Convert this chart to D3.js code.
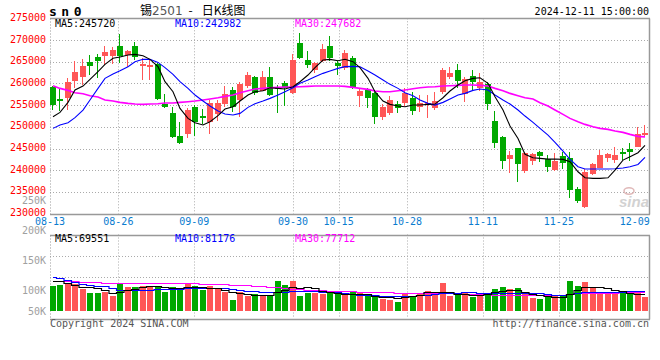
<!DOCTYPE html>
<html>
<head>
<meta charset="utf-8">
<script src="https://cdn.jsdelivr.net/npm/d3@7"></script>
<style>
body{margin:0;background:#fff;}
svg{display:block;}
</style>
</head>
<body>
<svg id="chart"></svg>
<script>
// trading days shown on the chart
var dates = ["08-13","08-14","08-15","08-16","08-19","08-20","08-21","08-22","08-23","08-26",
	"08-27","08-28","08-29","08-30","09-02","09-03","09-04","09-05","09-06","09-09",
	"09-10","09-11","09-12","09-13","09-18","09-19","09-20","09-23","09-24","09-25",
	"09-26","09-27","09-30","10-08","10-09","10-10","10-11","10-14","10-15","10-16",
	"10-17","10-18","10-21","10-22","10-23","10-24","10-25","10-28","10-29","10-30",
	"10-31","11-01","11-04","11-05","11-06","11-07","11-08","11-11","11-12","11-13",
	"11-14","11-15","11-18","11-19","11-20","11-21","11-22","11-25","11-26","11-27",
	"11-28","11-29","12-02","12-03","12-04","12-05","12-06","12-09","12-10","12-11"];

var opens = [259250,256500,256700,260550,261550,264950,266100,266300,266300,268600,
	266550,268600,264100,263850,264400,255250,253250,247900,248250,254550,
	252550,251200,252850,255250,258500,256200,259500,261450,258350,261450,
	259250,260150,257700,269400,265400,263100,265150,268600,264600,263450,
	265800,257100,258500,257700,252350,253250,255250,255400,256700,254650,
	255000,254400,258100,261550,263100,257500,261700,259000,259800,251350,
	247650,242600,245050,239900,242200,244250,242600,240050,243250,242750,
	235600,231600,239050,240600,242900,242350,244250,244900,245400,248100];

var highs = [259500,258850,261300,265150,265600,266550,266750,268600,268400,271400,
	267600,269600,265800,265550,264600,257550,254650,251200,254250,255000,
	254100,256200,256200,259400,259100,260400,262700,261700,262950,263700,
	259650,260550,266700,271700,267450,265000,269100,270900,265150,267700,
	266300,258850,258850,258100,255250,257100,255950,258850,258100,257350,
	257350,258100,263600,263850,264450,261550,263100,262300,260400,253650,
	247950,244400,245050,244250,244050,244400,243500,243900,244250,244250,
	236050,240300,241600,244650,244050,245250,245050,246200,250050,250400];

var lows = [253900,253650,253850,258850,259650,261950,261300,264250,264400,264600,
	263850,265400,260800,260800,256200,254400,247500,246050,247350,247950,
	250550,248400,251400,254650,253350,252350,258850,257350,258250,257100,
	253100,254850,257500,265600,263450,262300,265000,265150,261950,263100,
	258650,254650,254250,250550,251550,252700,253100,254850,252700,253500,
	252100,253850,257550,261000,258850,255800,258500,258250,253850,245200,
	240300,239450,237350,239300,241200,241950,239500,239900,240300,233650,
	232350,231350,238900,240450,241800,241600,242350,242100,245400,247750];

var closes = [255000,256250,260250,262650,263950,264000,265150,267250,267700,266300,
	267450,266150,264400,264250,256400,254650,247750,246350,253850,251200,
	252100,255400,255400,257550,254650,259850,261950,257700,261450,257350,
	258850,258850,265400,265800,264250,264800,267950,265800,264100,267100,
	259000,258250,256700,252350,254550,256200,254250,257700,253700,255400,
	255400,255950,263100,262300,260550,261000,260400,260400,255250,246350,
	242100,243500,241450,243900,243750,243350,240800,242200,241750,235450,
	233000,239650,241350,243500,243650,243500,243900,244250,248350,248500];

// price moving averages as drawn
var ma5 = [252340,253330,255640,258480,259400,260940,262700,264390,265780,266100,
	266540,266700,266390,265550,263860,260400,258100,254260,251950,250950,
	250420,251180,252570,254100,254640,255950,257330,258100,258330,259020,
	258860,258710,259250,260400,261940,263630,265390,265550,265240,265550,
	265010,263630,261170,258100,255950,255180,254790,254640,255020,255020,
	255180,255250,256710,258250,259630,260630,261170,261320,260020,256940,
	253870,250190,247340,243700,242890,242740,242580,242580,242510,241970,
	239660,238280,238130,238130,238280,240050,242350,243120,244040,245720];

var ma10 = [249650,250420,250950,252110,253870,256180,258860,261170,262170,262930,
	263860,265010,265550,265550,264850,263630,262090,260400,258860,257330,
	255950,254790,253640,252950,252720,253100,254490,255330,255950,256560,
	257330,258100,259020,260020,260780,261550,262320,262860,263470,263860,
	263930,263860,262860,261940,260780,259790,258860,257870,257170,256180,
	255410,255020,255640,256410,257330,257710,258400,258710,258480,257330,
	256180,255250,253870,252490,251030,249650,248110,246420,244430,242510,
	240820,240280,240280,240280,240280,240360,240510,240820,241350,242982];

var ma30 = [259480,258860,258400,257870,257640,257170,256870,256180,255950,255640,
	255410,255250,255180,255250,255330,255490,255490,255640,255790,255950,
	256180,256410,256710,257020,257330,257870,258330,258710,258860,259020,
	259090,259170,259170,259250,259330,259400,259400,259400,259400,259330,
	259090,258860,258630,258250,258100,258100,258330,258480,258790,259020,
	259170,259250,259400,259480,259560,259630,259630,259560,259400,258860,
	258330,257710,257170,256710,256410,255560,254790,253870,252870,251950,
	251180,250570,250030,249650,249420,249030,248730,248270,247810,247682];

// traded volume and its moving averages
var volumes = [102000,106000,110000,109000,91000,73000,73000,79000,63000,115500,
	99500,99500,102000,99500,102000,78000,99500,88000,110000,102000,
	85500,102000,93000,79000,45000,79000,63000,67600,61000,63000,
	122000,106000,122000,63000,72000,72000,69500,72000,72000,65700,
	79000,72000,63000,61000,49000,45000,35700,72000,63000,72000,
	81700,79000,114600,63000,75000,72000,57300,65700,65700,90000,
	97700,90000,94800,79000,52600,49000,67600,63000,61000,122000,
	102000,118000,94800,67600,72000,72000,72000,72000,79000,57300];

var volMa5 = [123800,121100,114300,107500,99300,96600,92500,87100,73500,78900,
	87100,89800,96600,100700,100700,96600,92500,92500,96600,96600,
	96600,93900,92500,87100,76200,72100,69400,66700,65300,65300,
	76200,85700,96600,93900,96600,93900,83000,78900,72100,69400,
	69400,69400,69400,62600,58500,55800,53100,55800,62600,66700,
	76200,78900,78900,76200,69400,69400,66700,65300,69400,76200,
	83000,85700,85700,76200,69400,65300,62600,58500,58500,69400,
	85700,96600,99300,99300,92500,85700,80300,72100,69400,69551];

var volMa10 = [137400,133300,126500,117000,110200,106100,103400,100700,92500,87100,
	87100,87100,87100,87100,89800,89800,89800,89800,92500,92500,
	93900,93900,93900,92500,89800,87100,83000,80300,78900,76200,
	78900,78900,83000,83000,83000,81600,78900,76200,76200,73500,
	69400,66700,66700,65300,62600,59900,59900,62600,62600,65300,
	66700,69400,72100,73500,74800,76200,76200,73500,72100,73500,
	73500,73500,74800,74800,73500,72100,69400,65300,65300,69400,
	73500,76200,76200,76200,76200,78900,78900,80300,83000,81176];

var volMa30 = [123800,123800,123800,121100,119700,117000,117000,114300,114300,114300,
	114300,112900,112900,112900,112900,112900,112900,112900,112900,112900,
	110200,110200,110200,108800,107500,106100,104800,103400,103400,96600,
	96600,93900,89800,88400,87100,85700,84400,83000,83000,83000,
	80300,78900,76200,76200,76200,76200,73500,73500,73500,72100,
	72100,72100,72100,72100,72100,69400,69400,69400,69400,66700,
	66700,66700,66700,66700,66700,66700,66700,66700,66700,69400,
	72100,73500,73500,73500,74800,74800,76200,76200,76200,77712];

var priceTicks = [275000,270000,265000,260000,255000,250000,245000,240000,235000,230000];
var volTicks = [250000,200000,150000,100000,50000];
var dateTicks = ["08-13","08-26","09-09","09-30","10-15","10-28","11-11","11-25","12-09"];

var W = 660, H = 360;
var left = 50, right = 650;
var mainTop = 18.3, mainBot = 213.7;
var volTop = 234.5, volBot = 318.5, volBase = 311;

var upColor = "#ff5656", downColor = "#00a800";
var gridColor = "#aaaaaa", borderColor = "#999999";
var mono = "'DejaVu Sans Mono', 'Liberation Mono', monospace";

var svg = d3.select("#chart").attr("width", W).attr("height", H);

var x = d3.scaleBand().domain(dates).range([left, 648.5]).paddingInner(0.2).paddingOuter(0);
var xTick = d3.scalePoint().domain(dates).range([left, right]);
var y = d3.scaleLinear().domain([230000, 275000]).range([mainBot, mainTop]);
var yVol = d3.scaleLinear().domain([0, 100000]).range([volBase, volBase - 24.5]);
// the volume labels sit on their own spacing, last one pushed to the bottom
var yVolLabel = d3.scaleLinear().domain([100000, 250000]).range([294, 203.5]);

var candles = dates.map(function(d, i){
	return {date: d, o: opens[i], h: highs[i], l: lows[i], c: closes[i], v: volumes[i]};
});
function colorOf(d){ return d.c >= d.o ? upColor : downColor; }
function px(v){ return Math.round(v) + 0.5; }

//grid main panel
svg.append("g").selectAll("line")
	.data(priceTicks.slice(1, -1))
	.enter().append("line")
	.attr("x1", left).attr("x2", right)
	.attr("y1", function(d){ return px(y(d)); })
	.attr("y2", function(d){ return px(y(d)); })
	.attr("stroke", gridColor)
	.attr("stroke-dasharray", "1,2");

var vGrid = dateTicks.slice(1, -1);
svg.append("g").selectAll("line")
	.data(vGrid)
	.enter().append("line")
	.attr("x1", function(d){ return px(xTick(d)); })
	.attr("x2", function(d){ return px(xTick(d)); })
	.attr("y1", mainTop).attr("y2", mainBot)
	.attr("stroke", gridColor)
	.attr("stroke-dasharray", "1,2");

//grid volume panel
var volGridY = [1, 2].map(function(k){ return volTop + k * (volBot - volTop) / 4; });
svg.append("g").selectAll("line")
	.data(volGridY)
	.enter().append("line")
	.attr("x1", left).attr("x2", right)
	.attr("y1", function(d){ return px(d); })
	.attr("y2", function(d){ return px(d); })
	.attr("stroke", gridColor)
	.attr("stroke-dasharray", "1,2");

svg.append("g").selectAll("line")
	.data(vGrid)
	.enter().append("line")
	.attr("x1", function(d){ return px(xTick(d)); })
	.attr("x2", function(d){ return px(xTick(d)); })
	.attr("y1", volTop).attr("y2", volBot)
	.attr("stroke", gridColor)
	.attr("stroke-dasharray", "1,2");

//borders
function frame(t, b){
	var f = svg.append("g").attr("fill", "none").attr("stroke", borderColor).attr("stroke-width", 1.5);
	f.append("line").attr("x1", left).attr("x2", right).attr("y1", px(t)).attr("y2", px(t));
	f.append("line").attr("x1", left).attr("x2", right).attr("y1", px(b)).attr("y2", px(b));
	f.append("line").attr("x1", right - 0.5).attr("x2", right - 0.5).attr("y1", px(t)).attr("y2", px(b));
	svg.append("line").attr("x1", left + 0.5).attr("x2", left + 0.5)
		.attr("y1", px(t)).attr("y2", px(b))
		.attr("stroke", borderColor).attr("stroke-dasharray", "1,2");
}
frame(mainTop, mainBot);
frame(volTop, volBot);

//sina watermark
var wm = svg.append("g").attr("fill", "#d2d2d2");
wm.append("ellipse").attr("cx", 629).attr("cy", 191).attr("rx", 5).attr("ry", 3.2)
	.attr("fill", "none").attr("stroke", "#e0b8b8").attr("stroke-width", 1.5);
wm.append("text").attr("x", 619).attr("y", 207)
	.style("font", "italic bold 15px 'Liberation Sans', Arial, sans-serif")
	.text("sina");

//candles
var cg = svg.append("g").attr("shape-rendering", "crispEdges");
cg.selectAll("line.wick")
	.data(candles)
	.enter().append("line")
	.attr("class", "wick")
	.attr("x1", function(d){ return Math.floor(x(d.date)) + 2.5; })
	.attr("x2", function(d){ return Math.floor(x(d.date)) + 2.5; })
	.attr("y1", function(d){ return Math.round(y(d.h)); })
	.attr("y2", function(d){ return Math.round(y(d.l)); })
	.attr("stroke", colorOf);

cg.selectAll("rect.body")
	.data(candles)
	.enter().append("rect")
	.attr("class", "body")
	.attr("x", function(d){ return Math.floor(x(d.date)); })
	.attr("y", function(d){ return Math.round(y(Math.max(d.o, d.c))); })
	.attr("width", 6)
	.attr("height", function(d){
		return Math.max(2, Math.round(y(Math.min(d.o, d.c))) - Math.round(y(Math.max(d.o, d.c))));
	})
	.attr("fill", colorOf);

//MA lines price
var maLine = d3.line()
	.x(function(d, i){ return Math.floor(x(dates[i])) + 3; })
	.y(function(d){ return y(d); });

[[ma30, "#ff00ff", 1.6], [ma10, "#0000ff", 1.1], [ma5, "#000000", 1.1]].forEach(function(s){
	svg.append("path")
		.datum(s[0])
		.attr("d", maLine)
		.attr("fill", "none")
		.attr("stroke", s[1])
		.attr("stroke-width", s[2]);
});

//volume bars
svg.append("g").attr("shape-rendering", "crispEdges")
	.selectAll("rect")
	.data(candles)
	.enter().append("rect")
	.attr("x", function(d){ return Math.floor(x(d.date)); })
	.attr("y", function(d){ return Math.round(yVol(d.v)); })
	.attr("width", 6)
	.attr("height", function(d){ return volBase - Math.round(yVol(d.v)); })
	.attr("fill", colorOf);

var volLine = d3.line()
	.x(function(d, i){ return Math.floor(x(dates[i])) + 3; })
	.y(function(d){ return Math.round(yVol(d)) + 0.5; })
	.curve(d3.curveStep);

[[volMa30, "#ff00ff"], [volMa10, "#0000ff"], [volMa5, "#000000"]].forEach(function(s){
	svg.append("path")
		.datum(s[0])
		.attr("d", volLine)
		.attr("fill", "none")
		.attr("stroke", s[1])
		.attr("stroke-width", 1.2);
});

//price labels
svg.append("g").selectAll("text")
	.data(priceTicks)
	.enter().append("text")
	.attr("x", 46)
	.attr("y", function(d){ return y(d) + 2.5; })
	.attr("text-anchor", "end")
	.style("font", "10px " + mono)
	.style("fill", "#ff0000")
	.text(function(d){ return d; });

//volume labels
svg.append("g").selectAll("text")
	.data(volTicks)
	.enter().append("text")
	.attr("x", 46)
	.attr("y", function(d){ return Math.min(314.5, yVolLabel(d)); })
	.attr("text-anchor", "end")
	.style("font", "10px " + mono)
	.style("fill", "#a0a0a0")
	.text(function(d){ return (d / 1000) + "K"; });

//date labels
svg.append("g").selectAll("text")
	.data(dateTicks)
	.enter().append("text")
	.attr("x", function(d){ return xTick(d); })
	.attr("y", 225)
	.attr("text-anchor", "middle")
	.style("font", "10px " + mono)
	.style("fill", "#0a7ccf")
	.text(function(d){ return d; });

//legends
function legend(yPos, vals){
	var items = [["MA5:", "#000000", 55], ["MA10:", "#0000ff", 175], ["MA30:", "#ff00ff", 295]];
	items.forEach(function(it, i){
		svg.append("text")
			.attr("x", it[2]).attr("y", yPos)
			.style("font", "10px " + mono)
			.style("fill", it[1])
			.text(it[0] + vals[i]);
	});
}
legend(27, [ma5[ma5.length - 1], ma10[ma10.length - 1], ma30[ma30.length - 1]]);
legend(242, [volMa5[volMa5.length - 1], volMa10[volMa10.length - 1], volMa30[volMa30.length - 1]]);

//header
svg.append("text")
	.attr("x", 49).attr("y", 16)
	.style("font", "bold 13px " + mono)
	.style("letter-spacing", "4.5px")
	.style("fill", "#000")
	.text("sn0");

var title = svg.append("text")
	.attr("x", 140).attr("y", 15)
	.style("font", "12px 'Noto Sans CJK SC', sans-serif")
	.style("fill", "#000");
title.append("tspan").text("锡");
title.append("tspan").style("fill", "#555").style("font-family", "'DejaVu Sans', sans-serif").text("2501");
title.append("tspan").attr("dx", 6).text("-");
title.append("tspan").attr("dx", 9).text("日K线图");

svg.append("text")
	.attr("x", 649).attr("y", 15)
	.attr("text-anchor", "end")
	.style("font", "10px " + mono)
	.style("fill", "#000")
	.text("2024-12-11 15:00:00");

//footer
svg.append("text")
	.attr("x", 50).attr("y", 327)
	.style("font", "10px " + mono)
	.style("fill", "#555")
	.text("Copyright 2024 SINA.COM");

svg.append("text")
	.attr("x", 649).attr("y", 327)
	.attr("text-anchor", "end")
	.style("font", "10px " + mono)
	.style("fill", "#555")
	.text("http://finance.sina.com.cn");
</script>
</body>
</html>
